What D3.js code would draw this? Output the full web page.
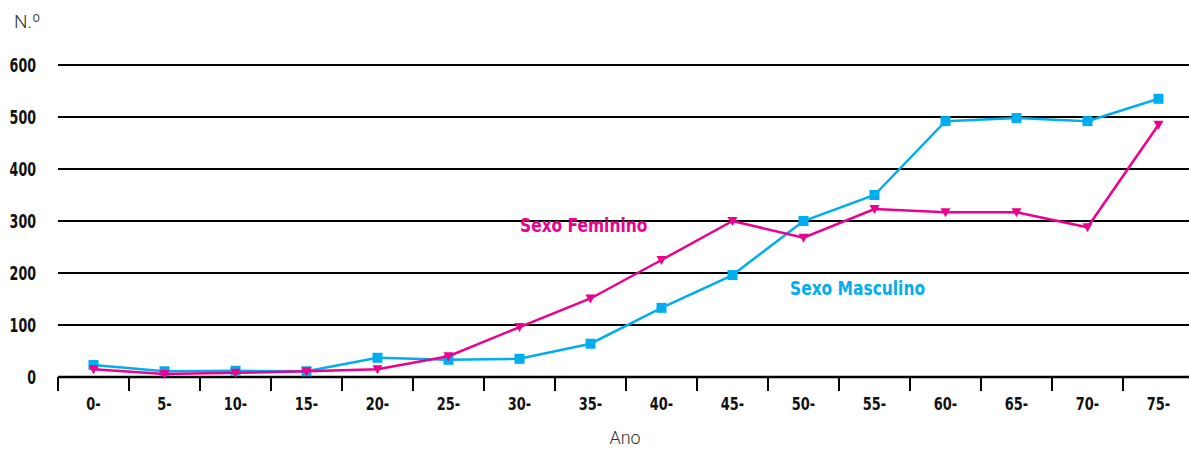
<!DOCTYPE html>
<html>
<head>
<meta charset="utf-8">
<script src="https://cdn.jsdelivr.net/npm/d3@7"></script>
<style>
  body { margin: 0; background: #fff; }
  text { font-family: "DejaVu Sans Condensed", "DejaVu Sans", sans-serif; }
</style>
</head>
<body>
<svg id="chart" width="1189" height="450"></svg>
<script>
var categories = ['0-', '5-', '10-', '15-', '20-', '25-', '30-', '35-', '40-', '45-', '50-', '55-', '60-', '65-', '70-', '75-'];
var masculino = [23, 11, 12, 11, 37, 33, 35, 64, 133, 196, 300, 350, 492, 498, 492, 535];
var feminino = [15, 6, 8, 11, 15, 40, 96, 151, 225, 300, 268, 323, 317, 317, 288, 485];
var yTicks = [0, 100, 200, 300, 400, 500, 600];

var blue = '#00aeef';
var pink = '#ec008c';
var narrowX = 0.74;

var svg = d3.select('#chart');

var x = d3.scaleBand().domain(categories).range([58, 1194]);
var y = d3.scaleLinear().domain([0, 600]).range([377, 65]);

// squeeze a text horizontally around its anchor point
var squeeze = function(sel, sx) {
  sel.each(function() {
    var t = d3.select(this);
    var tx = +t.attr('x') || 0;
    var ty = +t.attr('y') || 0;
    t.attr('x', 0).attr('y', 0)
      .attr('transform', 'translate(' + tx + ',' + ty + ') scale(' + sx + ',1)');
  });
};

// gridlines
svg.append('g').selectAll('line')
  .data(yTicks.filter(function(d) { return d > 0; }))
  .enter()
  .append('line')
  .attr('x1', 58).attr('x2', 1189)
  .attr('y1', function(d) { return y(d); })
  .attr('y2', function(d) { return y(d); })
  .attr('stroke', 'black')
  .attr('stroke-width', 2);

// y labels
svg.append('g').selectAll('text')
  .data(yTicks)
  .enter()
  .append('text')
  .attr('x', 36)
  .attr('y', function(d) { return y(d) + 7; })
  .attr('text-anchor', 'end')
  .attr('font-size', 19)
  .attr('font-weight', 'bold')
  .attr('fill', '#111')
  .text(function(d) { return d; })
  .call(squeeze, narrowX);

// x axis
var xAxis = d3.axisBottom(x).tickSize(0).tickPadding(20);
var gx = svg.append('g').attr('transform', 'translate(0,' + y(0) + ')').call(xAxis);
gx.select('.domain').attr('stroke', 'black').attr('stroke-width', 2.5).attr('d', 'M58,0H1189');
gx.selectAll('text')
  .attr('font-size', 18)
  .attr('font-weight', 'bold')
  .attr('fill', '#111')
  .style('font-family', '"DejaVu Sans Condensed", "DejaVu Sans", sans-serif')
  .attr('transform', 'scale(' + 0.8 + ',1)');

// band edge ticks
svg.append('g').selectAll('line')
  .data(categories)
  .enter()
  .append('line')
  .attr('x1', function(d) { return x(d); })
  .attr('x2', function(d) { return x(d); })
  .attr('y1', y(0))
  .attr('y2', y(0) + 14)
  .attr('stroke', 'black')
  .attr('stroke-width', 2);

var cx = function(d, i) { return x(categories[i]) + x.bandwidth() / 2; };

var line = d3.line()
  .x(cx)
  .y(function(d) { return y(d); });

// masculino
svg.append('path').datum(masculino)
  .attr('d', line)
  .attr('fill', 'none')
  .attr('stroke', blue)
  .attr('stroke-width', 2.5);

svg.append('g').selectAll('rect')
  .data(masculino)
  .enter()
  .append('rect')
  .attr('x', function(d, i) { return cx(d, i) - 5; })
  .attr('y', function(d) { return y(d) - 5; })
  .attr('width', 10)
  .attr('height', 10)
  .attr('fill', blue);

// feminino
svg.append('path').datum(feminino)
  .attr('d', line)
  .attr('fill', 'none')
  .attr('stroke', pink)
  .attr('stroke-width', 2.5);

svg.append('g').selectAll('path')
  .data(feminino)
  .enter()
  .append('path')
  .attr('transform', function(d, i) { return 'translate(' + cx(d, i) + ',' + y(d) + ')'; })
  .attr('d', 'M-5,-4L5,-4L0,5Z')
  .attr('fill', pink);

// series labels
svg.append('text')
  .attr('x', 520).attr('y', 232)
  .attr('font-size', 20).attr('font-weight', 'bold')
  .attr('fill', pink)
  .text('Sexo Feminino')
  .call(squeeze, 0.86);

svg.append('text')
  .attr('x', 790).attr('y', 295)
  .attr('font-size', 20).attr('font-weight', 'bold')
  .attr('fill', blue)
  .text('Sexo Masculino')
  .call(squeeze, 0.86);

// axis titles
svg.append('text')
  .attr('x', 14).attr('y', 28)
  .attr('font-size', 19)
  .attr('fill', '#333')
  .style('font-family', '"Roboto", "Liberation Sans", sans-serif')
  .style('font-weight', 300)
  .text('N.º');

svg.append('text')
  .attr('x', 625).attr('y', 444)
  .attr('text-anchor', 'middle')
  .attr('font-size', 18)
  .attr('fill', '#333')
  .style('font-family', '"Roboto", "Liberation Sans", sans-serif')
  .style('font-weight', 300)
  .text('Ano');
</script>
</body>
</html>
